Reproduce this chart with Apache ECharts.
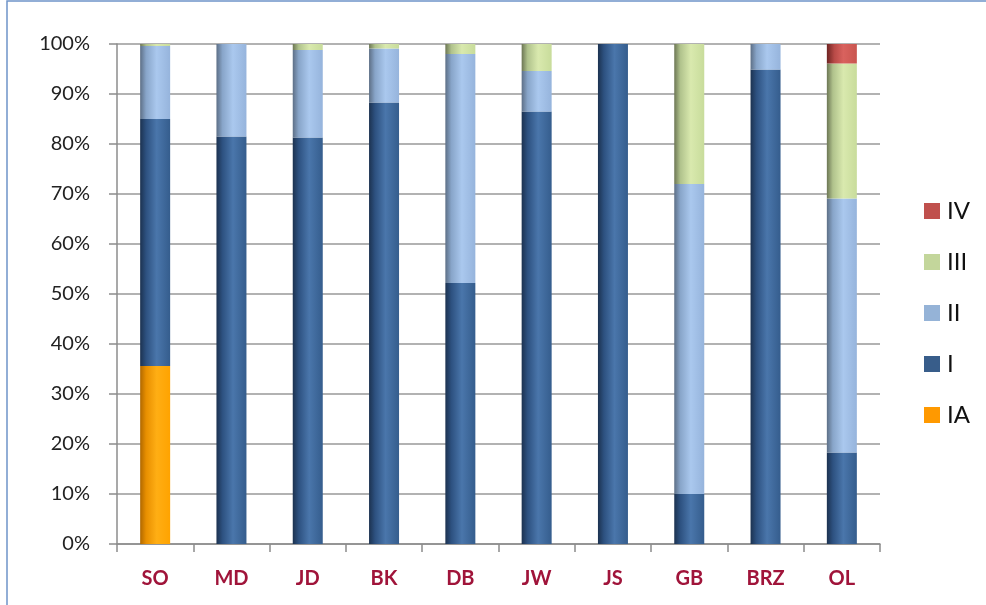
<!DOCTYPE html>
<html><head><meta charset="utf-8">
<script src="https://cdn.jsdelivr.net/npm/echarts@6/dist/echarts.min.js"></script>
<style>html,body{margin:0;padding:0;background:#fff}#c{width:986px;height:605px}</style>
</head><body><div id="c"></div>
<script>
const categories = ['SO','MD','JD','BK','DB','JW','JS','GB','BRZ','OL'];
const seriesNames = ['IA','I','II','III','IV'];
const valIA  = [35.6, 0, 0, 0, 0, 0, 0, 0, 0, 0];
const valI   = [49.4, 81.5, 81.3, 88.3, 52.2, 86.5, 100, 10.0, 94.9, 18.3];
const valII  = [14.6, 18.5, 17.5, 10.8, 45.8, 8.1, 0, 62.0, 5.1, 50.8];
const valIII = [0.4, 0, 1.2, 0.9, 2.0, 5.4, 0, 28.0, 0, 27.0];
const valIV  = [0, 0, 0, 0, 0, 0, 0, 0, 0, 3.9];
const yTicks = [0,10,20,30,40,50,60,70,80,90,100];

function grad(stops){
  return new echarts.graphic.LinearGradient(0,0,1,0, stops.map((c,i)=>({offset:c[0],color:c[1]})));
}
const styles = {
  IA: {legend:'#FF9900', fill:grad([[0,'#b06800'],[0.2,'#e88f00'],[0.55,'#ffae14'],[1,'#ffa300']])},
  I:  {legend:'#385D8A', fill:grad([[0,'#1c3250'],[0.2,'#2d5180'],[0.55,'#4a76ab'],[1,'#355d8d']])},
  II: {legend:'#95B3D7', fill:grad([[0,'#5d6f86'],[0.2,'#88a5c9'],[0.55,'#aac8ee'],[1,'#96b4dc']])},
  III:{legend:'#C3D69B', fill:grad([[0,'#6c7654'],[0.2,'#b0c28c'],[0.55,'#d9e9ae'],[1,'#c8dc9b']])},
  IV: {legend:'#C0504D', fill:grad([[0,'#6e2422'],[0.25,'#b84a47'],[0.55,'#d9625e'],[1,'#c9554f']])}
};
const dataMap = {IA:valIA, I:valI, II:valII, III:valIII, IV:valIV};

const series = seriesNames.map(n => ({
  name: n, type: 'bar', stack: 'all', barWidth: 30,
  data: dataMap[n],
  itemStyle: {color: styles[n].fill},
  emphasis: {disabled: true}
}));

const chart = echarts.init(document.getElementById('c'), null, {renderer:'canvas'});
chart.setOption({
  animation: false,
  backgroundColor: '#fff',
  color: seriesNames.map(n => styles[n].legend),
  grid: {left: 117, right: 106, top: 44, bottom: 61, containLabel: false},
  legend: {
    orient: 'vertical', left: 919, top: 194,
    data: ['IV','III','II','I','IA'].map(n => ({name:n, itemStyle:{color:styles[n].legend}})),
    itemWidth: 16, itemHeight: 16, itemGap: 27, icon: 'rect',
    textStyle: {fontFamily: 'Lato', fontSize: 24, color: '#111', padding:[0,0,0,2]}
  },
  xAxis: {
    type: 'category', data: categories,
    axisLine: {lineStyle: {color: '#8c8c8c', width: 1.5}},
    axisTick: {show: true, length: 8, alignWithLabel: false, lineStyle: {color: '#8c8c8c', width: 1.5}},
    axisLabel: {margin: 25, fontFamily: 'Lato', fontSize: 20, fontWeight: 'bold', color: '#A0143A'}
  },
  yAxis: {
    type: 'value', min: 0, max: 100, interval: 10,
    axisLine: {show: true, lineStyle: {color: '#8c8c8c', width: 1.5}},
    axisTick: {show: true, length: 8, lineStyle: {color: '#8c8c8c', width: 1.5}},
    axisLabel: {margin: 27, fontFamily: 'Lato', fontSize: 20, color: '#222',
      formatter: v => yTicks.includes(v) ? v + '%' : ''},
    splitLine: {show: true, lineStyle: {color: '#999', width: 1.5}}
  },
  graphic: [{
    type: 'rect', shape: {x: 7, y: 1, width: 990, height: 620},
    style: {fill: 'none', stroke: '#6f94c9', lineWidth: 1.5}, silent: true
  }],
  series: series
});
</script>
</body></html>
